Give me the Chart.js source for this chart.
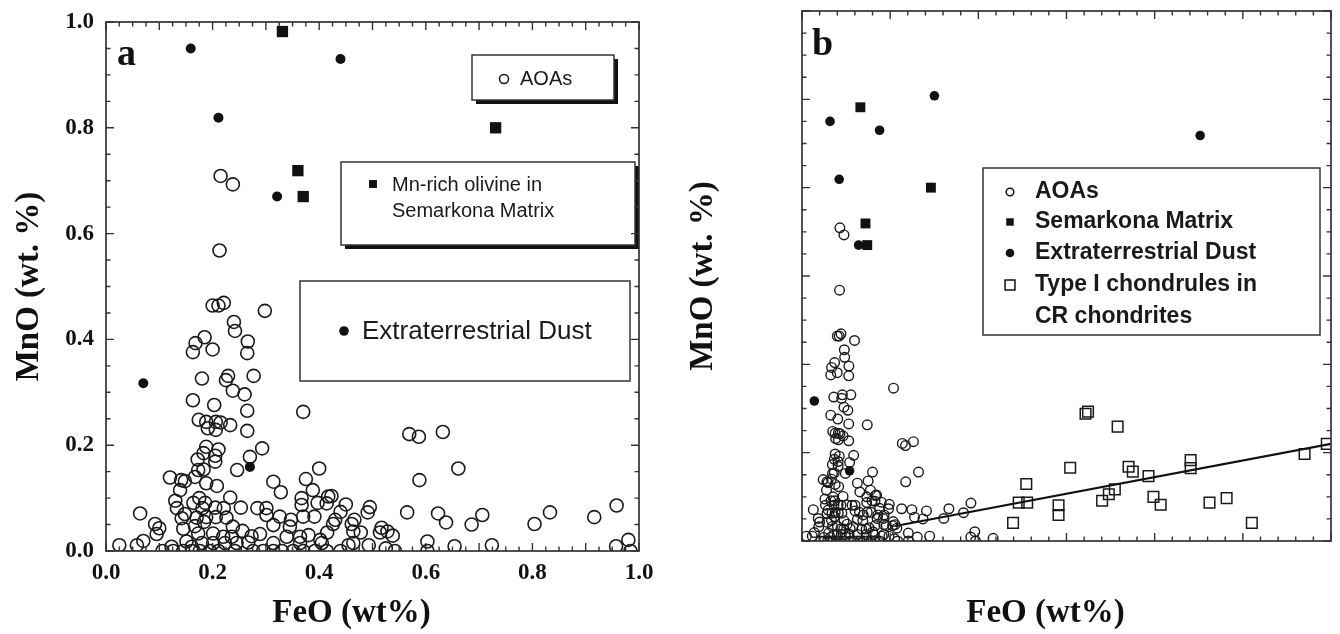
<!DOCTYPE html>
<html>
<head>
<title>MnO vs FeO in AOAs</title>
<script src="https://cdn.jsdelivr.net/npm/chart.js@4.4.0/dist/chart.umd.min.js"></script>
<style>
    body { margin: 0; background: #fff; width: 1340px; height: 634px; overflow: hidden; position: relative; }
    canvas { position: absolute; top: 0; }
    #chartA { left: 0; }
    #chartB { left: 680px; }
</style>
</head>
<body>

<canvas id="chartA" width="680" height="634"></canvas>
<canvas id="chartB" width="660" height="634"></canvas>

<script>
// AOAs (open circles), FeO and MnO in wt%
aoaFeO = [
    0.215,0.238,0.213,0.200,0.211,0.221,0.298,0.240,0.242,0.185,0.168,0.163,0.200,0.266,0.265,0.180,0.229,0.225,0.277,0.519,
    0.238,0.260,0.163,0.203,0.265,0.370,0.174,0.188,0.206,0.215,0.233,0.191,0.206,0.265,
    0.293,0.188,0.211,0.183,0.172,0.205,0.205,0.270,0.246,0.183,0.173,
    0.120,0.141,0.148,0.167,0.188,0.208,0.314,0.328,0.400,0.375,0.388,0.367,0.367,0.397,0.417,
    0.139,0.130,0.133,0.164,0.175,0.186,0.181,0.205,0.221,0.233,0.253,0.284,0.301,
    0.064,0.148,0.142,0.170,0.188,0.206,0.226,0.301,0.326,0.347,0.370,0.391,
    0.092,0.100,0.095,0.145,0.167,0.184,0.238,0.314,0.345,0.256,0.173,0.201,0.220,0.273,0.289,0.339,0.364,0.380,0.402,0.236,
    0.025,0.058,0.070,0.123,0.161,0.180,0.223,0.245,0.267,0.314,0.364,0.405,0.151,0.201,
    0.106,0.126,0.145,0.161,0.176,0.195,0.211,0.242,0.276,0.295,0.314,0.330,0.351,0.370,0.392,0.414,
    0.569,0.587,0.632,0.661,0.588,0.423,0.414,0.450,0.440,0.495,0.491,0.565,0.623,0.638,0.686,0.706,0.804,0.833,0.916,0.958,
    0.980,0.957,0.984,0.426,0.430,0.466,0.461,0.464,0.478,0.415,0.517,0.514,0.528,0.538,0.603,0.455,0.493,0.464,0.654,0.724,
    0.440,0.525,0.542,0.603,1.084
];
aoaMnO = [
    0.709,0.693,0.568,0.464,0.464,0.469,0.454,0.433,0.416,0.404,0.393,0.376,0.381,0.396,0.374,0.326,0.331,0.323,0.331,0.346,
    0.303,0.296,0.285,0.276,0.265,0.263,0.248,0.244,0.244,0.243,0.238,0.232,0.229,0.227,
    0.194,0.197,0.192,0.185,0.173,0.180,0.169,0.178,0.153,0.154,0.153,
    0.139,0.134,0.132,0.140,0.128,0.123,0.131,0.111,0.156,0.136,0.115,0.100,0.087,0.091,0.103,
    0.115,0.095,0.081,0.091,0.100,0.091,0.081,0.082,0.081,0.101,0.082,0.081,0.081,
    0.071,0.070,0.062,0.063,0.064,0.064,0.063,0.068,0.065,0.059,0.065,0.065,
    0.051,0.043,0.032,0.042,0.047,0.055,0.046,0.049,0.046,0.038,0.033,0.033,0.027,0.028,0.032,0.027,0.027,0.030,0.021,0.027,
    0.011,0.011,0.019,0.008,0.008,0.015,0.015,0.015,0.016,0.015,0.015,0.015,0.018,0.015,
    0,0,0,0,0,0,0,0,0,0,0,0,0,0,0,0,
    0.221,0.216,0.225,0.156,0.134,0.104,0.090,0.088,0.074,0.083,0.073,0.073,0.071,0.054,0.050,0.068,0.051,0.073,0.064,0.086,
    0.021,0.009,0.000,0.051,0.059,0.059,0.051,0.037,0.035,0.035,0.044,0.035,0.037,0.029,0.018,0.011,0.011,0.015,0.009,0.011,
    0,0.005,0,0,0.006
];

// Extraterrestrial dust (filled circles)
dustFeO = [0.159, 0.440, 0.211, 0.321, 0.070, 0.270, 0.751, 2.258];
dustMnO = [0.950, 0.930, 0.819, 0.670, 0.317, 0.159, 1.008, 0.918];

// Mn-rich olivine in Semarkona matrix (filled squares)
semFeO = [0.331, 0.360, 0.370, 0.731];
semMnO = [0.982, 0.719, 0.670, 0.800];

// Type I chondrules in CR chondrites (open squares, panel b only)
crFeO = [1.229,1.277,1.272,1.197,1.455,1.455,1.521,1.608,1.622,1.790,1.852,1.876,1.965,1.774,1.740,1.702,1.993,2.034,2.204,2.204,2.311,2.408,2.551,2.850,2.976];
crMnO = [0.087,0.087,0.129,0.041,0.081,0.059,0.166,0.288,0.293,0.259,0.168,0.157,0.147,0.117,0.106,0.091,0.100,0.082,0.183,0.165,0.087,0.097,0.041,0.197,0.220];

// trend line through the chondrules
fitFeO = [0.53, 3.0];
fitMnO = [0.034, 0.220];

xTitle = 'FeO (wt%)';
yTitle = 'MnO (wt. %)';

serif = 'Liberation Serif';
sans = 'Liberation Sans';

function points(xs, ys, xmax, ymax) {
    return xs.map((x, i) => ({x: x, y: ys[i]})).filter(p => p.x <= xmax && p.y <= ymax);
}

// inward ticks on all four sides plus the frame
function drawFrame(chart, xStep, xEvery, yStep, yEvery) {
    const ctx = chart.ctx, a = chart.chartArea;
    const xs = chart.scales.x, ys = chart.scales.y;
    ctx.save();
    ctx.strokeStyle = '#333';
    ctx.lineWidth = 1.4;
    ctx.beginPath();
    const nx = Math.round((xs.max - xs.min) / xStep);
    for (let i = 0; i <= nx; i++) {
        const px = xs.getPixelForValue(xs.min + i * xStep);
        const len = i % xEvery === 0 ? 8 : 4.5;
        ctx.moveTo(px, a.bottom); ctx.lineTo(px, a.bottom - len);
        ctx.moveTo(px, a.top); ctx.lineTo(px, a.top + len);
    }
    const ny = Math.round((ys.max - ys.min) / yStep);
    for (let i = 0; i <= ny; i++) {
        const py = ys.getPixelForValue(ys.min + i * yStep);
        const len = i % yEvery === 0 ? 8 : 4.5;
        ctx.moveTo(a.left, py); ctx.lineTo(a.left + len, py);
        ctx.moveTo(a.right, py); ctx.lineTo(a.right - len, py);
    }
    ctx.stroke();
    ctx.lineWidth = 1.7;
    ctx.strokeRect(a.left, a.top, a.width, a.height);
    ctx.restore();
}

function drawXTitle(chart) {
    const ctx = chart.ctx, a = chart.chartArea;
    ctx.save();
    ctx.font = 'bold 33px "' + serif + '"';
    ctx.fillStyle = '#111';
    ctx.textAlign = 'center';
    ctx.textBaseline = 'middle';
    ctx.fillText(xTitle, a.left + a.width / 2 - 21, 613);
    ctx.restore();
}

function drawLetter(chart, letter, x, y) {
    const ctx = chart.ctx;
    ctx.save();
    ctx.font = 'bold 38px "' + serif + '"';
    ctx.fillStyle = '#111';
    ctx.textBaseline = 'alphabetic';
    ctx.fillText(letter, x, y);
    ctx.restore();
}

function box(ctx, x, y, w, h, shadow) {
    if (shadow) {
        ctx.fillStyle = '#111';
        ctx.fillRect(x + shadow, y + shadow, w, h);
    }
    ctx.fillStyle = '#fff';
    ctx.fillRect(x, y, w, h);
    ctx.strokeStyle = '#333';
    ctx.lineWidth = 1.5;
    ctx.strokeRect(x, y, w, h);
}

function marker(ctx, style, radius, filled, x, y) {
    ctx.fillStyle = filled ? '#111' : '#fff';
    ctx.strokeStyle = '#111';
    Chart.helpers.drawPoint(ctx, {pointStyle: style, radius: radius, borderWidth: filled ? 0 : 1.3, rotation: 0}, x, y);
}

function label(ctx, text, font, x, y) {
    ctx.font = font;
    ctx.fillStyle = '#1a1a1a';
    ctx.textAlign = 'left';
    ctx.textBaseline = 'middle';
    ctx.fillText(text, x, y);
}

panelA = {
    id: 'panelA',
    afterDatasetsDraw(chart) {
        const ctx = chart.ctx;
        ctx.save();
        box(ctx, 472, 55, 142, 45, 4);
        marker(ctx, 'circle', 4.5, false, 504, 79);
        label(ctx, 'AOAs', '20px "' + sans + '"', 520, 79);

        box(ctx, 341, 162, 294, 83, 4);
        marker(ctx, 'rect', 5.6, true, 373, 184);
        label(ctx, 'Mn-rich olivine in', '20px "' + sans + '"', 392, 185);
        label(ctx, 'Semarkona Matrix', '20px "' + sans + '"', 392, 211);

        box(ctx, 300, 281, 330, 100, 0);
        marker(ctx, 'circle', 4.8, true, 344, 331);
        label(ctx, 'Extraterrestrial Dust', '26px "' + sans + '"', 362, 332);
        ctx.restore();
    },
    afterDraw(chart) {
        drawFrame(chart, 0.025, 4, 0.05, 4);
        drawXTitle(chart);
        drawLetter(chart, 'a', 117, 65);
    }
};

panelB = {
    id: 'panelB',
    afterDatasetsDraw(chart) {
        const ctx = chart.ctx;
        const f = 'bold 23px "' + sans + '"';
        ctx.save();
        box(ctx, 303, 168, 337, 167, 0);
        marker(ctx, 'circle', 3.8, false, 330, 192);
        label(ctx, 'AOAs', f, 355, 192);
        marker(ctx, 'rect', 5.3, true, 330, 222);
        label(ctx, 'Semarkona Matrix', f, 355, 222);
        marker(ctx, 'circle', 4.3, true, 330, 253);
        label(ctx, 'Extraterrestrial Dust', f, 355, 253);
        marker(ctx, 'rect', 7, false, 330, 285);
        label(ctx, 'Type I chondrules in', f, 355, 285);
        label(ctx, 'CR chondrites', f, 355, 317);
        ctx.restore();
    },
    afterDraw(chart) {
        drawFrame(chart, 0.1, 5, 0.05, 4);
        drawXTitle(chart);
        drawLetter(chart, 'b', 132, 55);
    }
};

tickFont = {family: serif, weight: 'bold', size: 23};
titleFont = {family: serif, weight: 'bold', size: 33};

chartA = new Chart(document.getElementById('chartA'), {
    type: 'scatter',
    data: {
        datasets: [
            {
                label: 'Mn-rich olivine in Semarkona Matrix',
                data: points(semFeO, semMnO, 1, 1),
                pointStyle: 'rect', pointRadius: 8, borderWidth: 0,
                backgroundColor: '#111', borderColor: '#111'
            },
            {
                label: 'Extraterrestrial Dust',
                data: points(dustFeO, dustMnO, 1, 1),
                pointStyle: 'circle', pointRadius: 5, borderWidth: 0,
                backgroundColor: '#111', borderColor: '#111'
            },
            {
                label: 'AOAs',
                data: points(aoaFeO, aoaMnO, 1, 1),
                pointStyle: 'circle', pointRadius: 6.5, borderWidth: 1.6,
                backgroundColor: 'rgba(0,0,0,0)', borderColor: '#1a1a1a'
            }
        ]
    },
    options: {
        responsive: false,
        animation: false,
        devicePixelRatio: 1,
        layout: { padding: { top: 22, right: 41, left: 0, bottom: 0 } },
        plugins: { legend: { display: false }, tooltip: { enabled: false } },
        scales: {
            x: {
                type: 'linear', min: 0, max: 1,
                afterFit: function (s) { s.height = 83; },
                grid: { display: false }, border: { display: false },
                ticks: {
                    stepSize: 0.2, padding: 0, color: '#111', font: tickFont,
                    autoSkip: false, maxRotation: 0,
                    callback: v => v.toFixed(1)
                }
            },
            y: {
                type: 'linear', min: 0, max: 1,
                afterFit: function (s) { s.width = 106; },
                grid: { display: false }, border: { display: false },
                ticks: {
                    stepSize: 0.2, padding: 4, color: '#111', font: tickFont,
                    autoSkip: false,
                    callback: v => v.toFixed(1)
                },
                title: { display: true, text: yTitle, color: '#111', font: titleFont, padding: { top: 10, bottom: 0 } }
            }
        }
    },
    plugins: [panelA]
});

chartB = new Chart(document.getElementById('chartB'), {
    type: 'scatter',
    data: {
        datasets: [
            {
                label: 'fit',
                data: points(fitFeO, fitMnO, 3, 1.2),
                showLine: true, pointRadius: 0, borderWidth: 2.2,
                borderColor: '#111', fill: false
            },
            {
                label: 'Semarkona Matrix',
                data: points(semFeO, semMnO, 3, 1.2),
                pointStyle: 'rect', pointRadius: 7, borderWidth: 0,
                backgroundColor: '#111', borderColor: '#111'
            },
            {
                label: 'Extraterrestrial Dust',
                data: points(dustFeO, dustMnO, 3, 1.2),
                pointStyle: 'circle', pointRadius: 4.8, borderWidth: 0,
                backgroundColor: '#111', borderColor: '#111'
            },
            {
                label: 'Type I chondrules in CR chondrites',
                data: points(crFeO, crMnO, 3, 1.2),
                pointStyle: 'rect', pointRadius: 7.5, borderWidth: 1.5,
                backgroundColor: 'rgba(0,0,0,0)', borderColor: '#1a1a1a'
            },
            {
                label: 'AOAs',
                data: points(aoaFeO, aoaMnO, 3, 1.2),
                pointStyle: 'circle', pointRadius: 4.8, borderWidth: 1.4,
                backgroundColor: 'rgba(0,0,0,0)', borderColor: '#1a1a1a'
            }
        ]
    },
    options: {
        responsive: false,
        animation: false,
        devicePixelRatio: 1,
        layout: { padding: { top: 11, right: 4, left: 0, bottom: 0 } },
        plugins: { legend: { display: false }, tooltip: { enabled: false } },
        scales: {
            x: {
                type: 'linear', min: 0, max: 3,
                afterFit: function (s) { s.height = 93; },
                grid: { display: false }, border: { display: false },
                ticks: { display: false }
            },
            y: {
                type: 'linear', min: 0, max: 1.2,
                afterFit: function (s) { s.width = 122; },
                grid: { display: false }, border: { display: false },
                ticks: { display: false },
                title: { display: true, text: yTitle, color: '#111', font: titleFont, padding: { top: 4, bottom: 0 } }
            }
        }
    },
    plugins: [panelB]
});
</script>
</body>
</html>
